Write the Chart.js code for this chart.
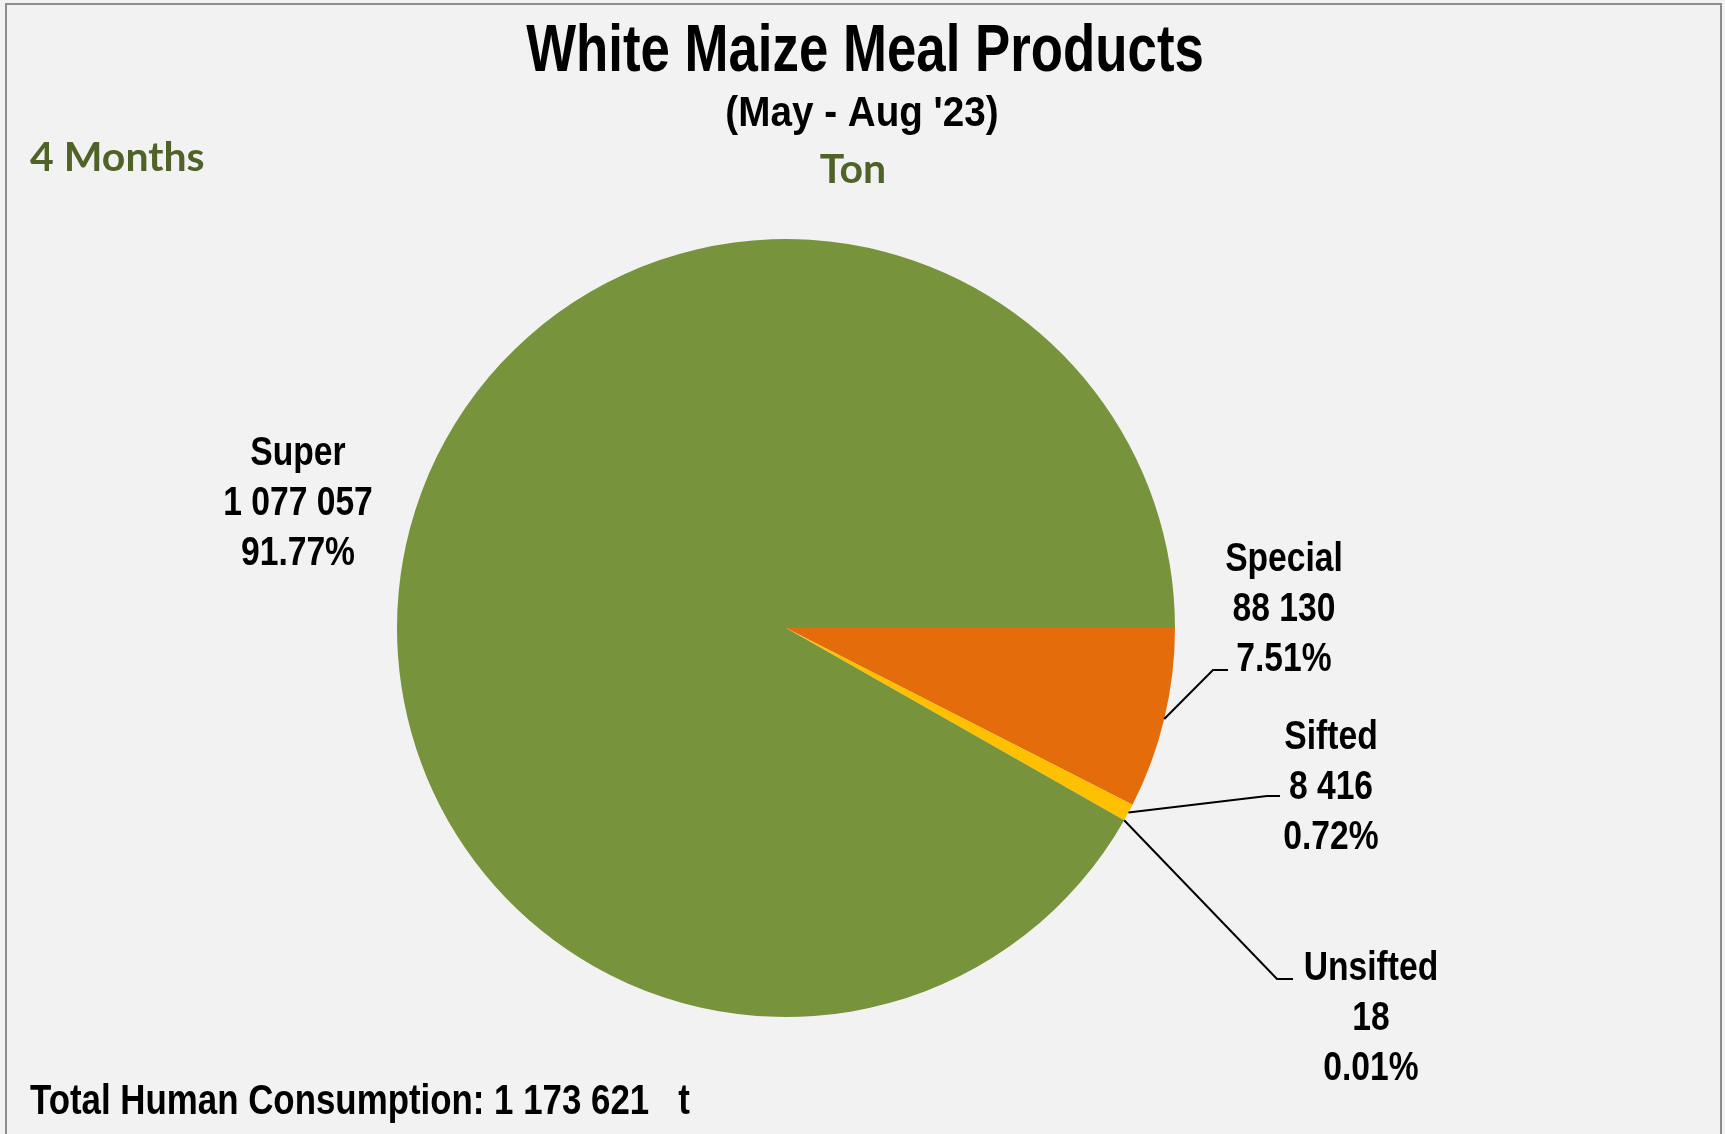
<!DOCTYPE html>
<html>
<head>
<meta charset="utf-8">
<title>White Maize Meal Products</title>
<script src="https://cdn.jsdelivr.net/npm/chart.js@4.4.1/dist/chart.umd.min.js"></script>
<style>
    html, body { margin: 0; padding: 0; background: #f2f2f2; }
    canvas { display: block; }
</style>
</head>
<body>
<canvas id="maizeChart" width="1725" height="1134"></canvas>
<script>
// ============================================
// White Maize Meal Products - pie (May - Aug '23)
// ============================================

// data (slice order starts at 3 o'clock)
const categories = ['Special', 'Sifted', 'Unsifted', 'Super'];
const tonnes = [88130, 8416, 18, 1077057];
const percentLabels = ['7.51%', '0.72%', '0.01%', '91.77%'];
const sliceColors = ['#e46c0a', '#ffc000', '#4bacc6', '#77933c'];
const totalTonnes = 1173621;

// where each data label sits (first line baseline) and its leader elbow
const labelLayout = {
    Special:  { x: 1284, y: 571, leader: [[1213, 670], [1228, 670]] },
    Sifted:   { x: 1331, y: 749, leader: [[1267, 796], [1280, 796]] },
    Unsifted: { x: 1371, y: 980, leader: [[1277, 979], [1293, 979]] },
    Super:    { x: 298,  y: 465, leader: null }
};

const NARROW = 0.82; // Arial Narrow look from Liberation Sans Bold
const SANS = "'Liberation Sans', Arial, sans-serif";
const GREEN_TEXT = '#4f6228';

function fmt(n) {
    return String(n).replace(/\B(?=(\d{3})+(?!\d))/g, ' ');
}

function drawText(ctx, str, x, y, size, opts = {}) {
    ctx.save();
    ctx.font = `bold ${size}px ${opts.family || SANS}`;
    ctx.fillStyle = opts.color || '#000';
    ctx.textAlign = opts.align || 'center';
    ctx.textBaseline = 'alphabetic';
    ctx.translate(x, y);
    ctx.scale(opts.scaleX || 1, 1);
    ctx.fillText(str, 0, 0);
    ctx.restore();
}

const frameAndLabels = {
    id: 'frameAndLabels',
    afterDraw(chart) {
        const ctx = chart.ctx;

        // outer frame
        ctx.save();
        ctx.strokeStyle = '#8c8c8c';
        ctx.lineWidth = 2;
        ctx.beginPath();
        ctx.moveTo(6, 1140);
        ctx.lineTo(6, 4);
        ctx.lineTo(1721, 4);
        ctx.lineTo(1721, 1140);
        ctx.stroke();
        ctx.restore();

        // titles
        drawText(ctx, 'White Maize Meal Products', 865, 71, 66, { scaleX: 0.8 });
        drawText(ctx, "(May - Aug '23)", 862, 126, 42, { scaleX: 0.92 });
        drawText(ctx, 'Ton', 853, 183, 41, { family: 'Lato, sans-serif', color: GREEN_TEXT });
        drawText(ctx, '4 Months', 30, 171, 41, { family: 'Lato, sans-serif', color: GREEN_TEXT, align: 'left' });
        drawText(ctx, 'Total Human Consumption: ' + fmt(totalTonnes) + '   t', 30, 1114, 42,
            { scaleX: 0.83, align: 'left' });

        // data labels + leader lines
        const meta = chart.getDatasetMeta(0);
        meta.data.forEach((arc, i) => {
            const name = categories[i];
            const lay = labelLayout[name];
            const lines = [name, fmt(tonnes[i]), percentLabels[i]];
            lines.forEach((t, k) => {
                drawText(ctx, t, lay.x, lay.y + k * 50, 41, { scaleX: NARROW });
            });

            if (lay.leader) {
                const p = arc.getProps(['x', 'y', 'startAngle', 'endAngle', 'outerRadius'], true);
                const mid = (p.startAngle + p.endAngle) / 2;
                ctx.save();
                ctx.strokeStyle = '#000';
                ctx.lineWidth = 2;
                ctx.beginPath();
                ctx.moveTo(p.x + Math.cos(mid) * p.outerRadius, p.y + Math.sin(mid) * p.outerRadius);
                lay.leader.forEach(pt => ctx.lineTo(pt[0], pt[1]));
                ctx.stroke();
                ctx.restore();
            }
        });
    }
};

new Chart(document.getElementById('maizeChart'), {
    type: 'pie',
    data: {
        labels: categories,
        datasets: [{
            data: tonnes,
            backgroundColor: sliceColors,
            borderWidth: 0,
            hoverOffset: 0
        }]
    },
    options: {
        responsive: false,
        animation: false,
        devicePixelRatio: 1,
        events: [],
        rotation: 90,
        layout: {
            padding: { left: 397, right: 550, top: 239, bottom: 117 }
        },
        plugins: {
            legend: { display: false },
            tooltip: { enabled: false },
            title: { display: false }
        }
    },
    plugins: [frameAndLabels]
});
</script>
</body>
</html>
